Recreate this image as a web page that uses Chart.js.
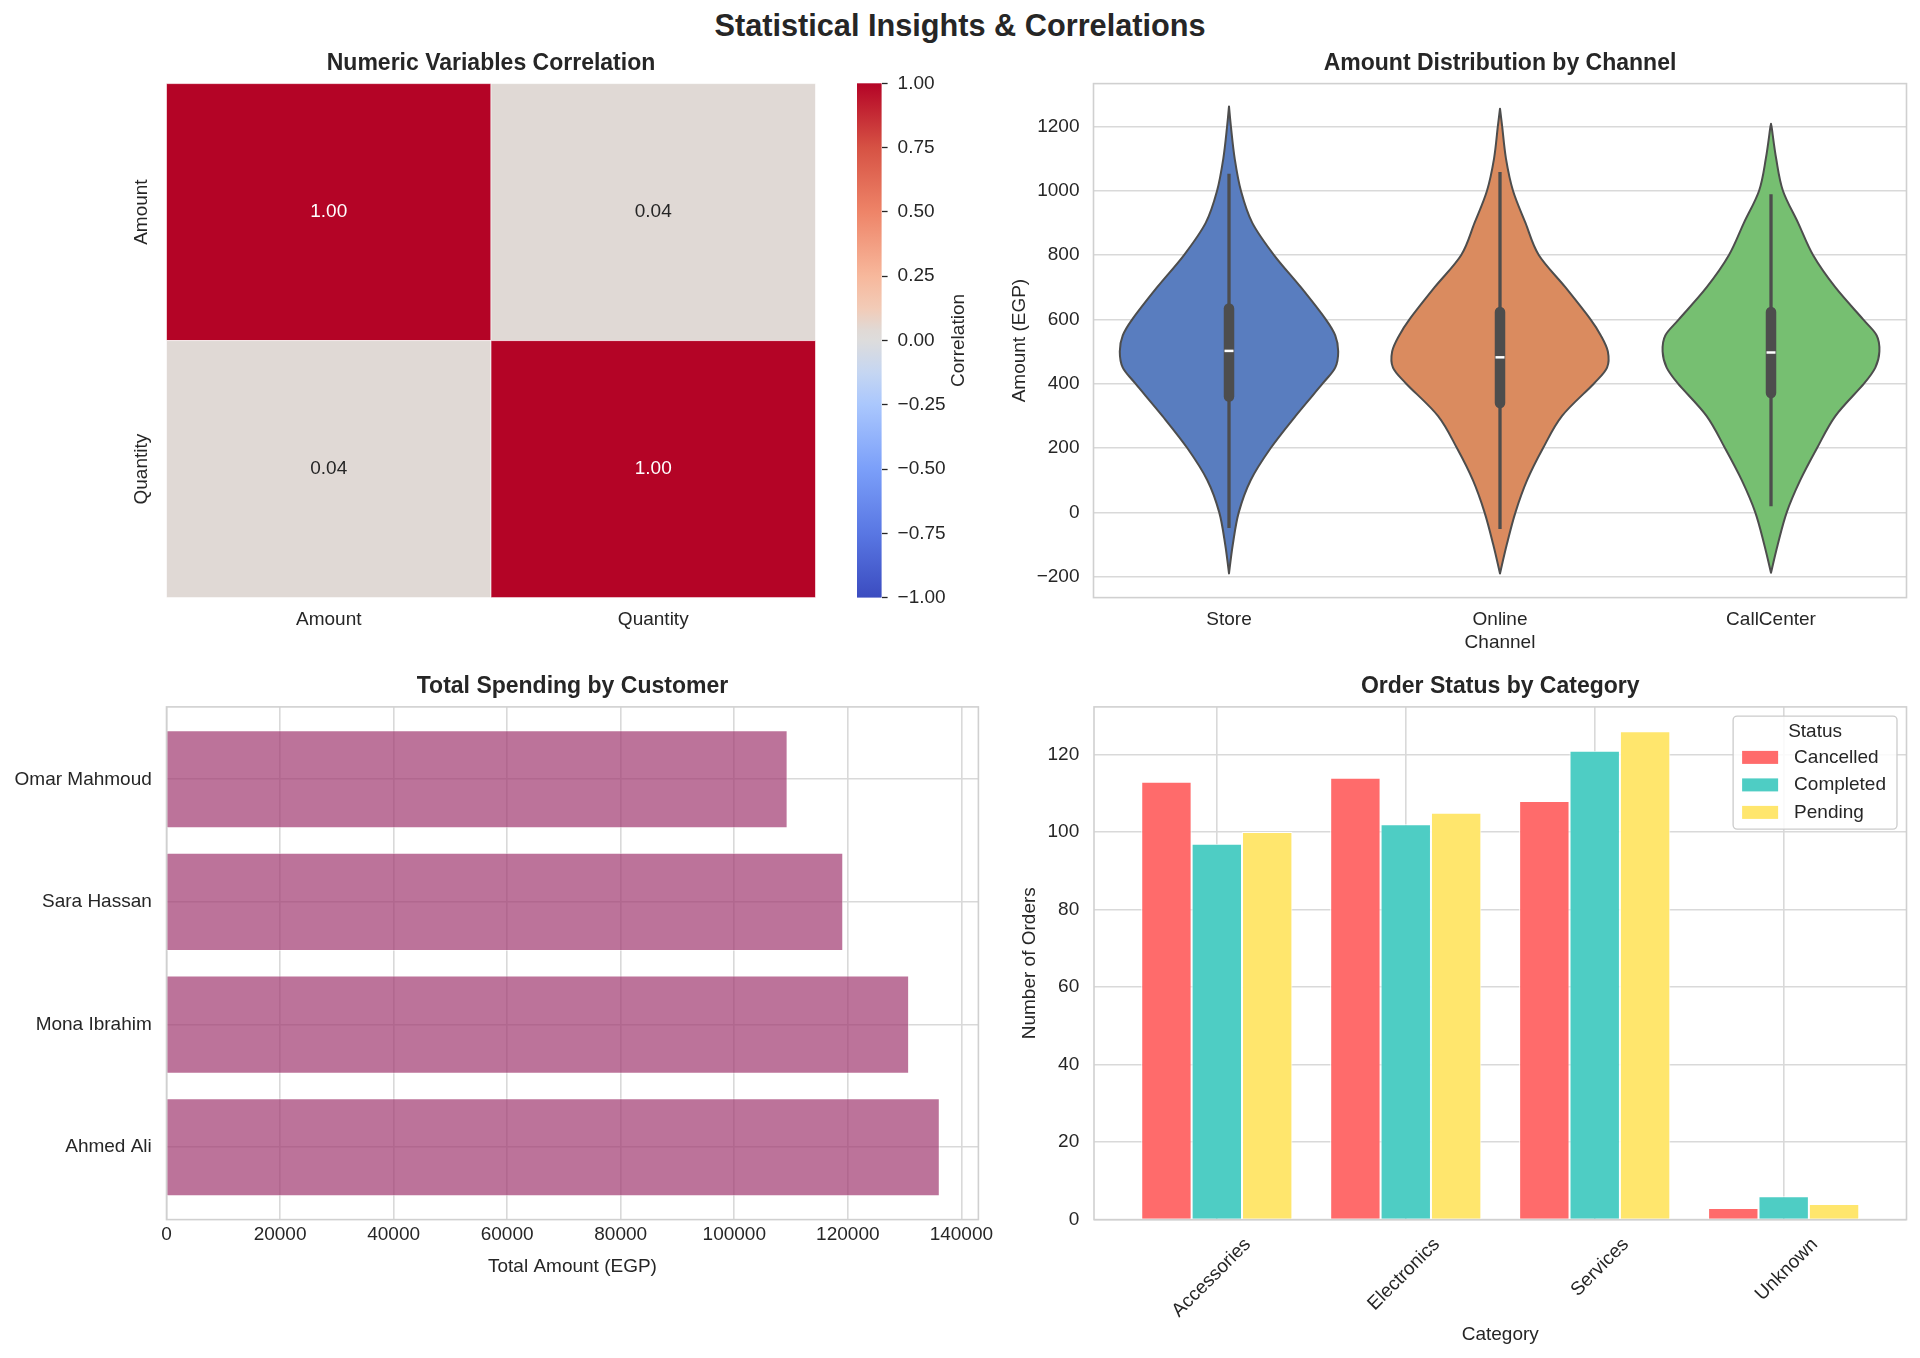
<!DOCTYPE html>
<html>
<head>
<meta charset="utf-8">
<title>Statistical Insights & Correlations</title>
<script src="https://cdn.jsdelivr.net/npm/chart.js"></script>
<style>
    body {
        margin: 0;
        width: 1920px;
        height: 1358px;
        position: relative;
        overflow: hidden;
        background: #fff;
        font-family: 'Liberation Sans', Arial, sans-serif;
    }
    h1 {
        position: absolute;
        left: 0;
        top: 8px;
        width: 1920px;
        margin: 0;
        text-align: center;
        font-size: 30.7px;
        line-height: 36px;
        font-weight: bold;
        color: #262626;
    }
    canvas { position: absolute; }
</style>
</head>
<body>
<h1>Statistical Insights &amp; Correlations</h1>
<canvas id="heatmap" width="840" height="620" style="left:0;top:40px;width:840px;height:620px"></canvas>
<canvas id="colorbar" width="160" height="620" style="left:840px;top:40px;width:160px;height:620px"></canvas>
<canvas id="violin" width="920" height="620" style="left:1000px;top:40px;width:920px;height:620px"></canvas>
<canvas id="spending" width="1000" height="698" style="left:0;top:660px;width:1000px;height:698px"></canvas>
<canvas id="status" width="920" height="698" style="left:1000px;top:660px;width:920px;height:698px"></canvas>

<script>
// ---- data ----
const corrVars = ['Amount', 'Quantity'];
const corrValues = [[1.00, 0.04], [0.04, 1.00]];
const corrTicks = [-1, -0.75, -0.5, -0.25, 0, 0.25, 0.5, 0.75, 1];

const channels = ['Store', 'Online', 'CallCenter'];
const violinLevels = [-100, 0, 100, 200, 300, 400, 450, 500, 550, 600, 700, 800, 900, 1000, 1100, 1200];
const storeWidths = [0.014, 0.036, 0.080, 0.154, 0.246, 0.345, 0.392, 0.403, 0.392, 0.357, 0.265, 0.166, 0.086, 0.044, 0.021, 0.007];
const onlineWidths = [0.025, 0.057, 0.100, 0.159, 0.229, 0.346, 0.395, 0.398, 0.372, 0.334, 0.241, 0.143, 0.094, 0.048, 0.022, 0.008];
const callCenterWidths = [0.025, 0.058, 0.108, 0.170, 0.238, 0.343, 0.385, 0.400, 0.390, 0.340, 0.237, 0.155, 0.100, 0.044, 0.019, 0.002];
const violinMin = [-190, -190, -188];
const violinMax = [1262, 1255, 1203];
const boxQ1 = [344, 324, 355];
const boxMedian = [502, 482, 497];
const boxQ3 = [650, 639, 639];
const whiskerLow = [-49, -52, 19];
const whiskerHigh = [1053, 1058, 989];
const amountTicks = [-200, 0, 200, 400, 600, 800, 1000, 1200];

const customers = ['Omar Mahmoud', 'Sara Hassan', 'Mona Ibrahim', 'Ahmed Ali'];
const customerTotals = [109400, 119200, 130800, 136200];
const spendTicks = [0, 20000, 40000, 60000, 80000, 100000, 120000, 140000];

const categories = ['Accessories', 'Electronics', 'Services', 'Unknown'];
const cancelled = [113, 114, 108, 3];
const completed = [97, 102, 121, 6];
const pending = [100, 105, 126, 4];
const orderTicks = [0, 20, 40, 60, 80, 100, 120];

// ---- styling ----
Chart.defaults.font.family = "'Liberation Sans', Arial, sans-serif";
Chart.defaults.font.size = 19;
Chart.defaults.color = '#262626';
Chart.defaults.animation = false;

const FONT = "'Liberation Sans', Arial, sans-serif";
const titleFont = { size: 23, weight: 'bold' };
const labelFont = { size: 19 };
const gridColor = '#d9d9d9';
const violinColors = ['#597dbf', '#da8b5f', '#76bf71'];
const coolwarmStops = [
    [0, '#3b4cc0'], [0.125, '#5977e3'], [0.25, '#7b9ff9'], [0.375, '#aac7fd'],
    [0.4375, '#c5d6f2'], [0.5, '#dddcdc'], [0.52, '#e0d9d5'], [0.5625, '#f2cbb7'],
    [0.625, '#f7b89c'], [0.75, '#ee8468'], [0.875, '#d65244'], [1, '#b40426']
];

function hexRgb(h) {
    return [1, 3, 5].map(k => parseInt(h.slice(k, k + 2), 16));
}
function coolwarm(t) {
    for (let k = 1; k < coolwarmStops.length; k++) {
        const [t1, c1] = coolwarmStops[k];
        if (t <= t1) {
            const [t0, c0] = coolwarmStops[k - 1];
            const f = (t - t0) / (t1 - t0);
            const a = hexRgb(c0), b = hexRgb(c1);
            return 'rgb(' + a.map((v, j) => Math.round(v + (b[j] - v) * f)).join(',') + ')';
        }
    }
    return coolwarmStops[coolwarmStops.length - 1][1];
}
function plainTick(v) {
    return v < 0 ? '\u2212' + Math.abs(v) : String(v);
}
function fixedTicks(list) {
    return s => { s.ticks = list.map(v => ({ value: v })); };
}

const framePlugin = {
    id: 'frame',
    beforeDatasetsDraw(chart) {
        const { ctx, chartArea: a } = chart;
        ctx.save();
        ctx.strokeStyle = '#d0d0d0';
        ctx.lineWidth = 1.6;
        ctx.strokeRect(a.left, a.top, a.right - a.left, a.bottom - a.top);
        ctx.restore();
    }
};

function subTitle(text, top, bottom) {
    return { display: true, text: text, font: titleFont, color: '#262626', fullSize: false, padding: { top: top, bottom: bottom } };
}

// ---- heatmap ----
const heatmapPlugin = {
    id: 'heatmapCells',
    afterDatasetsDraw(chart) {
        const { ctx, scales: { x, y } } = chart;
        ctx.save();
        chart.data.datasets[0].data.forEach(p => {
            const x0 = x.getPixelForValue(p.x - 0.5), x1 = x.getPixelForValue(p.x + 0.5);
            const y0 = y.getPixelForValue(p.y - 0.5), y1 = y.getPixelForValue(p.y + 0.5);
            ctx.fillStyle = coolwarm((p.v + 1) / 2);
            ctx.fillRect(x0, y0, x1 - x0, y1 - y0);
            ctx.strokeStyle = 'rgba(255,255,255,0.6)';
            ctx.lineWidth = 1;
            ctx.strokeRect(x0, y0, x1 - x0, y1 - y0);
            ctx.fillStyle = p.v > 0.5 ? '#ffffff' : '#262626';
            ctx.font = '19px ' + FONT;
            ctx.textAlign = 'center';
            ctx.textBaseline = 'middle';
            ctx.fillText(p.v.toFixed(2), (x0 + x1) / 2, (y0 + y1) / 2);
        });
        // row labels, rotated like the reference
        ctx.fillStyle = '#262626';
        corrVars.forEach((name, r) => {
            ctx.save();
            ctx.translate(y.right - 24.5, y.getPixelForValue(r + 0.5));
            ctx.rotate(-Math.PI / 2);
            ctx.fillText(name, 0, 0);
            ctx.restore();
        });
        ctx.restore();
    }
};

const cells = [];
corrValues.forEach((row, r) => row.forEach((v, c) => cells.push({ x: c + 0.5, y: r + 0.5, v: v })));

new Chart(document.getElementById('heatmap'), {
    type: 'scatter',
    data: { datasets: [{ data: cells, pointRadius: 0, pointHoverRadius: 0 }] },
    options: {
        responsive: false,
        layout: { padding: { left: 0, right: 24.5, top: 0, bottom: 0 } },
        plugins: {
            legend: { display: false },
            tooltip: { enabled: false },
            title: subTitle('Numeric Variables Correlation', 10, 6)
        },
        scales: {
            x: {
                type: 'linear', min: 0, max: 2,
                grid: { display: false }, border: { display: false },
                afterBuildTicks: fixedTicks(corrVars.map((n, i) => i + 0.5)),
                ticks: { padding: 3, callback: v => corrVars[Math.floor(v)] },
                afterFit: s => { s.height = 62.4; }
            },
            y: {
                type: 'linear', min: 0, max: 2, reverse: true,
                grid: { display: false }, border: { display: false },
                ticks: { display: false },
                afterFit: s => { s.width = 166.5; }
            }
        }
    },
    plugins: [heatmapPlugin]
});

// ---- colour bar ----
const colorbarPlugin = {
    id: 'colorbarFill',
    beforeDatasetsDraw(chart) {
        const { ctx, chartArea: a, scales: { y } } = chart;
        const yb = y.getPixelForValue(corrTicks[0]), yt = y.getPixelForValue(corrTicks[corrTicks.length - 1]);
        const g = ctx.createLinearGradient(0, yb, 0, yt);
        coolwarmStops.forEach(([t, c]) => g.addColorStop(t, c));
        ctx.save();
        ctx.fillStyle = g;
        ctx.fillRect(a.left, yt, a.right - a.left, yb - yt);
        ctx.fillStyle = '#262626';
        ctx.font = '19px ' + FONT;
        ctx.textAlign = 'center';
        ctx.textBaseline = 'middle';
        ctx.translate(119, (a.top + a.bottom) / 2);
        ctx.rotate(-Math.PI / 2);
        ctx.fillText('Correlation', 0, 0);
        ctx.restore();
    }
};

new Chart(document.getElementById('colorbar'), {
    type: 'scatter',
    data: { datasets: [] },
    options: {
        responsive: false,
        layout: { padding: { left: 17, right: 0, top: 43.3, bottom: 62.4 } },
        plugins: { legend: { display: false }, tooltip: { enabled: false } },
        scales: {
            x: { display: false, min: 0, max: 1 },
            y: {
                position: 'right',
                min: corrTicks[0], max: corrTicks[corrTicks.length - 1],
                afterBuildTicks: fixedTicks(corrTicks),
                grid: { drawOnChartArea: false, drawTicks: true, tickLength: 6, tickColor: '#262626', tickWidth: 1.3 },
                border: { display: false },
                ticks: { padding: 10, callback: v => (v < 0 ? '\u2212' : '') + Math.abs(v).toFixed(2) },
                afterFit: s => { s.width = 118.4; }
            }
        }
    },
    plugins: [colorbarPlugin]
});

// ---- violins ----
const violinWidths = [storeWidths, onlineWidths, callCenterWidths];

function splineThrough(ctx, pts) {
    for (let k = 0; k < pts.length - 1; k++) {
        const p0 = pts[Math.max(k - 1, 0)], p1 = pts[k], p2 = pts[k + 1], p3 = pts[Math.min(k + 2, pts.length - 1)];
        ctx.bezierCurveTo(
            p1.x + (p2.x - p0.x) / 6, p1.y + (p2.y - p0.y) / 6,
            p2.x - (p3.x - p1.x) / 6, p2.y - (p3.y - p1.y) / 6,
            p2.x, p2.y);
    }
}

const violinPlugin = {
    id: 'violins',
    afterDatasetsDraw(chart) {
        const { ctx, scales: { x, y } } = chart;
        ctx.save();
        channels.forEach((ch, i) => {
            const prof = [[violinMin[i], 0]]
                .concat(violinLevels.map((v, k) => [v, violinWidths[i][k]]))
                .concat([[violinMax[i], 0]]);
            const right = prof.map(([v, w]) => ({ x: x.getPixelForValue(i + w), y: y.getPixelForValue(v) }));
            const left = prof.slice().reverse().map(([v, w]) => ({ x: x.getPixelForValue(i - w), y: y.getPixelForValue(v) }));
            ctx.beginPath();
            ctx.moveTo(right[0].x, right[0].y);
            splineThrough(ctx, right);
            splineThrough(ctx, left);
            ctx.closePath();
            ctx.fillStyle = violinColors[i];
            ctx.fill();
            ctx.strokeStyle = '#4d4d4d';
            ctx.lineWidth = 2;
            ctx.lineJoin = 'round';
            ctx.stroke();

            // inner box
            const cx = x.getPixelForValue(i);
            ctx.lineCap = 'butt';
            ctx.lineWidth = 3.3;
            ctx.beginPath();
            ctx.moveTo(cx, y.getPixelForValue(whiskerLow[i]));
            ctx.lineTo(cx, y.getPixelForValue(whiskerHigh[i]));
            ctx.stroke();
            ctx.lineCap = 'round';
            ctx.lineWidth = 10.5;
            ctx.beginPath();
            ctx.moveTo(cx, y.getPixelForValue(boxQ1[i]) - 5.2);
            ctx.lineTo(cx, y.getPixelForValue(boxQ3[i]) + 5.2);
            ctx.stroke();
            ctx.lineCap = 'butt';
            ctx.strokeStyle = '#ffffff';
            ctx.lineWidth = 2.5;
            ctx.beginPath();
            ctx.moveTo(cx - 4.5, y.getPixelForValue(boxMedian[i]));
            ctx.lineTo(cx + 4.5, y.getPixelForValue(boxMedian[i]));
            ctx.stroke();
        });
        ctx.restore();
    }
};

new Chart(document.getElementById('violin'), {
    type: 'line',
    data: { labels: channels, datasets: [] },
    options: {
        responsive: false,
        layout: { padding: { left: 0, right: 13.5, top: 0, bottom: 0 } },
        plugins: {
            legend: { display: false },
            tooltip: { enabled: false },
            title: subTitle('Amount Distribution by Channel', 10, 6)
        },
        scales: {
            x: {
                type: 'category', offset: true,
                grid: { display: false }, border: { display: false },
                ticks: { padding: 3 },
                title: { display: true, text: 'Channel', font: labelFont, padding: { top: 0, bottom: 5.6 } },
                afterFit: s => { s.height = 62.4; }
            },
            y: {
                type: 'linear', min: -265, max: 1333,
                grid: { color: gridColor, lineWidth: 1.6, drawTicks: false },
                border: { display: false },
                afterBuildTicks: fixedTicks(amountTicks),
                ticks: { padding: 14, callback: plainTick },
                title: { display: true, text: 'Amount (EGP)', font: labelFont, padding: { top: 8.6, bottom: 0 } },
                afterFit: s => { s.width = 93.5; }
            }
        }
    },
    plugins: [framePlugin, violinPlugin]
});

// ---- total spending ----
new Chart(document.getElementById('spending'), {
    type: 'bar',
    data: {
        datasets: [{
            data: customers.map((n, i) => ({ x: customerTotals[i], y: i })),
            backgroundColor: 'rgba(159,56,111,0.7)',
            borderColor: 'rgba(255,255,255,0.5)',
            borderWidth: 1,
            categoryPercentage: 0.8,
            barPercentage: 1
        }]
    },
    options: {
        indexAxis: 'y',
        responsive: false,
        layout: { padding: { left: 0, right: 21.6, top: 0, bottom: 0 } },
        plugins: {
            legend: { display: false },
            tooltip: { enabled: false },
            title: subTitle('Total Spending by Customer', 13.3, 6)
        },
        scales: {
            x: {
                type: 'linear', min: 0, max: 143000,
                grid: { color: gridColor, lineWidth: 1.6, drawTicks: false },
                border: { display: false },
                afterBuildTicks: fixedTicks(spendTicks),
                ticks: { padding: 4, maxRotation: 0, callback: plainTick },
                title: { display: true, text: 'Total Amount (EGP)', font: labelFont, padding: { top: 0, bottom: 80.2 } },
                afterFit: s => { s.height = 138.4; }
            },
            y: {
                type: 'linear', min: -0.59, max: 3.59, reverse: true, offset: false,
                grid: { color: gridColor, lineWidth: 1.6, drawTicks: false, offset: false },
                border: { display: false },
                afterBuildTicks: fixedTicks(customers.map((n, i) => i)),
                ticks: { padding: 14.7, callback: v => customers[v] },
                afterFit: s => { s.width = 166.5; }
            }
        }
    },
    plugins: [framePlugin]
});

// ---- order status ----
const statusLegend = {
    id: 'statusLegend',
    afterDraw(chart) {
        const { ctx, chartArea: a } = chart;
        const sets = chart.data.datasets;
        ctx.save();
        ctx.font = '19px ' + FONT;
        const textW = Math.max(...sets.map(d => ctx.measureText(d.label).width));
        const w = 61 + textW + 11, h = 113;
        const bx = a.right - 9.5 - w, by = a.top + 9.2;
        ctx.beginPath();
        ctx.roundRect(bx, by, w, h, 4);
        ctx.fillStyle = 'rgba(255,255,255,0.85)';
        ctx.fill();
        ctx.strokeStyle = '#cccccc';
        ctx.lineWidth = 1.3;
        ctx.stroke();
        ctx.fillStyle = '#262626';
        ctx.textBaseline = 'middle';
        ctx.textAlign = 'center';
        ctx.fillText('Status', bx + w / 2, by + 15.3);
        ctx.textAlign = 'left';
        sets.forEach((d, k) => {
            const yc = by + 41.3 + k * 27.5;
            ctx.fillStyle = d.backgroundColor;
            ctx.fillRect(bx + 9, yc - 6.5, 36, 13);
            ctx.fillStyle = '#262626';
            ctx.fillText(d.label, bx + 61, yc);
        });
        ctx.restore();
    }
};

function statusSet(label, values, color) {
    return {
        label: label,
        data: categories.map((c, i) => ({ x: i, y: values[i] })),
        backgroundColor: color,
        borderColor: '#ffffff',
        borderWidth: 1,
        categoryPercentage: 0.8,
        barPercentage: 1
    };
}

new Chart(document.getElementById('status'), {
    type: 'bar',
    data: {
        datasets: [
            statusSet('Cancelled', cancelled, '#FF6B6B'),
            statusSet('Completed', completed, '#4ECDC4'),
            statusSet('Pending', pending, '#FFE66D')
        ]
    },
    options: {
        responsive: false,
        layout: { padding: { left: 0, right: 13.5, top: 0, bottom: 0 } },
        plugins: {
            legend: { display: false },
            tooltip: { enabled: false },
            title: subTitle('Order Status by Category', 13.3, 6)
        },
        scales: {
            x: {
                type: 'linear', min: -0.65, max: 3.65, offset: false,
                grid: { color: gridColor, lineWidth: 1.6, drawTicks: false, offset: false },
                border: { display: false },
                afterBuildTicks: fixedTicks(categories.map((c, i) => i)),
                ticks: { padding: 14, minRotation: 45, maxRotation: 45, labelOffset: 31, callback: v => categories[v] },
                title: { display: true, text: 'Category', font: labelFont, padding: { top: 0, bottom: 12.1 } },
                afterFit: s => { s.height = 138.4; }
            },
            y: {
                type: 'linear', min: 0, max: 132.3,
                grid: { color: gridColor, lineWidth: 1.6, drawTicks: false },
                border: { display: false },
                afterBuildTicks: fixedTicks(orderTicks),
                ticks: { padding: 14.8, callback: plainTick },
                title: { display: true, text: 'Number of Orders', font: labelFont, padding: { top: 17.9, bottom: 0 } },
                afterFit: s => { s.width = 94; }
            }
        }
    },
    plugins: [framePlugin, statusLegend]
});
</script>
</body>
</html>
